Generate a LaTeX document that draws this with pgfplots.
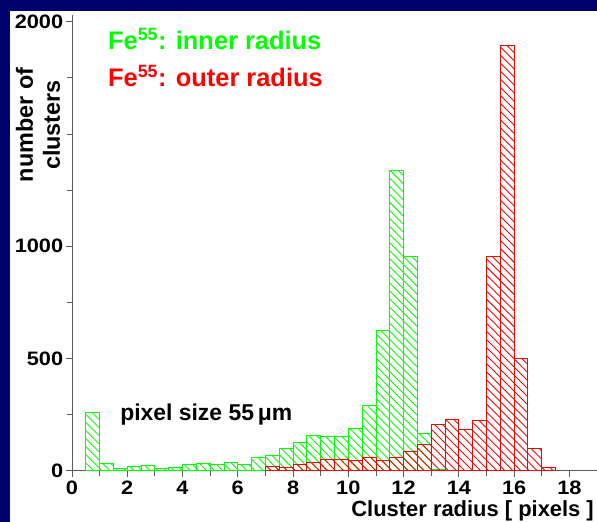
\documentclass[border=0pt]{standalone}
\usepackage{fontspec}
\setmainfont{Liberation Sans}
\usepackage{pgfplots}
\pgfplotsset{compat=1.18}
\usetikzlibrary{patterns.meta}
\definecolor{slideblue}{RGB}{0,0,110}
\definecolor{hgreen}{RGB}{0,255,0}
\definecolor{hred}{RGB}{255,0,0}
\definecolor{axisgray}{RGB}{90,90,90}

% cluster radius histograms, bins of 0.5 pixel (left edge, count)
\pgfplotstableread{
x    n
0.5  260
1.0  33
1.5  10
2.0  18
2.5  22
3.0  12
3.5  15
4.0  27
4.5  31
5.0  28
5.5  36
6.0  27
6.5  57
7.0  69
7.5  98
8.0  126
8.5  159
9.0  152
9.5  152
10.0 189
10.5 289
11.0 623
11.5 1339
12.0 953
12.5 167
13.0 6
13.5 0
}\innerradius
\pgfplotstableread{
x    n
7.0  20
7.5  15
8.0  30
8.5  36
9.0  52
9.5  48
10.0 45
10.5 60
11.0 45
11.5 60
12.0 85
12.5 119
13.0 207
13.5 229
14.0 185
14.5 226
15.0 953
15.5 1893
16.0 499
16.5 100
17.0 15
17.5 0
}\outerradius

\begin{document}
\begin{tikzpicture}[x=1bp,y=1bp]
\fill[slideblue] (0,0) rectangle (597,522);
\fill[white] (10,0) rectangle (597,511);
\useasboundingbox (0,0) rectangle (597,522);
\begin{axis}[
  at={(72bp,51.3bp)}, anchor=south west,
  scale only axis, width=525bp, height=455.7bp,
  xmin=0, xmax=19, ymin=0, ymax=2030,
  axis x line=bottom, axis y line=left,
  axis line style={-, draw=axisgray, line width=0.9pt},
  every tick/.style={draw=axisgray, line width=0.9pt},
  xtick={0,2,...,18}, minor xtick={1,3,...,17},
  ytick={0,500,1000,2000}, minor ytick={250,750,1250,1500,1750},
  tick align=outside, major tick length=6bp, minor tick length=5bp,
  /pgf/number format/assume math mode=true,
  /pgf/number format/1000 sep={},
  ticklabel style={font=\fontsize{19.5}{19.5}\selectfont\bfseries, xscale=1.12},
  xticklabel style={yshift=-1bp},
  yticklabel style={xshift=1bp},
  clip=false,
]
\addplot[ybar interval, draw=hgreen, line width=0.9pt,
  pattern={Lines[angle=-45,distance=5.7bp,line width=0.9pt]}, pattern color=hgreen]
  table[x=x,y=n] {\innerradius};
\addplot[ybar interval, draw=hred, line width=0.9pt,
  pattern={Lines[angle=-45,distance=5.7bp,line width=0.9pt]}, pattern color=hred]
  table[x=x,y=n] {\outerradius};
\node[anchor=base west, text=hgreen, font=\fontsize{25.5}{25.5}\selectfont\bfseries, inner sep=0pt]
  at (axis cs:1.3,1875) {Fe\textsuperscript{55}: inner radius};
\node[anchor=base west, text=hred, font=\fontsize{25.5}{25.5}\selectfont\bfseries, inner sep=0pt]
  at (axis cs:1.3,1710) {Fe\textsuperscript{55}: outer radius};
\node[anchor=base west, font=\fontsize{23}{23}\selectfont\bfseries, inner sep=0pt]
  at (axis cs:1.74,225) {pixel size 55\,μm};
\end{axis}
\node[rotate=90, align=center, font=\fontsize{23.5}{27}\selectfont\bfseries, inner sep=0pt]
  at (38,397) {number of\\clusters};
\node[anchor=base east, font=\fontsize{22}{22}\selectfont\bfseries, inner sep=0pt]
  at (594,5.2) {Cluster radius [ pixels ]};
\end{tikzpicture}
\end{document}
